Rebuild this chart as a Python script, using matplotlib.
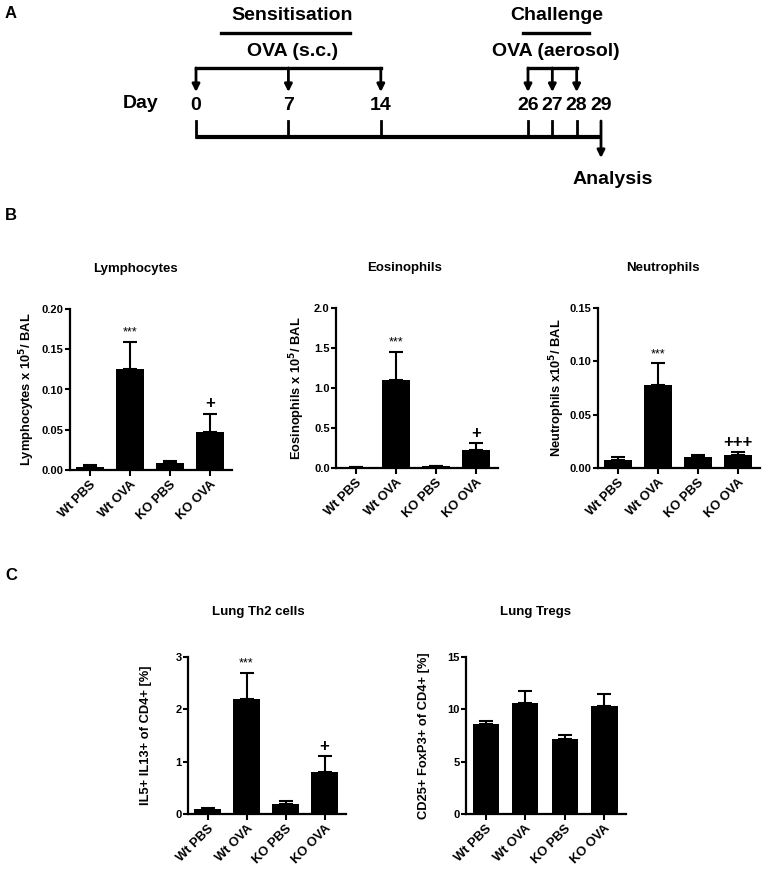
import numpy as np
import matplotlib
matplotlib.use('Agg')
import matplotlib.pyplot as plt

plt.rcParams['font.family'] = ['Liberation Sans', 'DejaVu Sans']
plt.rcParams['font.weight'] = 'bold'

W, H = 764, 871

# ---------------- data ----------------
groups = ['Wt PBS', 'Wt OVA', 'KO PBS', 'KO OVA']

days = [0, 7, 14, 26, 27, 28, 29]
sens_days = [0, 7, 14]
chal_days = [26, 27, 28]

lymph = [0.004, 0.125, 0.009, 0.047]
lymph_err = [0.002, 0.034, 0.002, 0.023]
lymph_sig = ['***', '+']

eos = [0.01, 1.10, 0.02, 0.22]
eos_err = [0.005, 0.35, 0.01, 0.09]
eos_sig = ['***', '+']

neut = [0.0075, 0.078, 0.010, 0.012]
neut_err = [0.0025, 0.020, 0.002, 0.003]
neut_sig = ['***', '+++']

th2 = [0.10, 2.20, 0.20, 0.81]
th2_err = [0.02, 0.50, 0.04, 0.30]
th2_sig = ['***', '+']

treg = [8.6, 10.6, 7.15, 10.3]
treg_err = [0.3, 1.15, 0.4, 1.15]
treg_sig = ['', '']


def px(l, t, r, b):
    return [l / W, 1 - b / H, (r - l) / W, (b - t) / H]


fig = plt.figure(figsize=(W / 100, H / 100), dpi=100)

# ---------------- panel A: timeline ----------------
# schematic axis: the last days are drawn spread out
knots_in = [-20, 0, 14, 26, 29, 40]
knots_out = [-20, 0, 14, 25.15, 30.68, 41.68]

def fwd(d):
    return np.interp(d, knots_in, knots_out)

def inv(u):
    return np.interp(u, knots_out, knots_in)

ta = fig.add_axes(px(196, 0, 601, 200))
ta.set_xscale('function', functions=(fwd, inv))
ta.set_xlim(0, 29)
ta.set_ylim(200, 0)
ta.axis('off')

fs = 14
arrow = dict(arrowstyle='-|>', lw=2, color='k', mutation_scale=11,
             shrinkA=0, shrinkB=0)

ta.plot([0, 29], [137, 137], color='k', lw=3, solid_capstyle='butt', clip_on=False)
for d in days[:-1]:
    ta.plot([d, d], [121, 137], color='k', lw=2, clip_on=False)
ta.annotate('', xy=(29, 158), xytext=(29, 121), arrowprops=arrow, annotation_clip=False)
for d in days:
    ta.text(d, 105, str(d), ha='center', va='center', fontsize=fs)
ta.text(-4.2, 103, 'Day', ha='center', va='center', fontsize=fs)
ta.text(29.9, 180, 'Analysis', ha='center', va='center', fontsize=fs)

for grp, label, title, lx in [(sens_days, 'OVA (s.c.)', 'Sensitisation', (1.9, 11.7)),
                               (chal_days, 'OVA (aerosol)', 'Challenge', (25.6, 28.5))]:
    ta.plot([grp[0], grp[-1]], [68, 68], color='k', lw=2.4, clip_on=False)
    for d in grp:
        ta.annotate('', xy=(d, 92), xytext=(d, 68), arrowprops=arrow, annotation_clip=False)
    mid = inv((fwd(grp[0]) + fwd(grp[-1])) / 2 + 0.3)
    ta.text(mid, 52, label, ha='center', va='center', fontsize=fs)
    ta.text(mid, 16, title, ha='center', va='center', fontsize=fs)
    ta.plot(list(lx), [33, 33], color='k', lw=2.4, clip_on=False)

# ---------------- bar panels ----------------
def bar_panel(rect, vals, errs, sig, ylim, yticks, yfmt, ylabel, label_x,
              title, title_xy, width=0.7):
    ax = fig.add_axes(px(*rect))
    x = np.arange(len(groups))
    ax.bar(x, vals, width=width, color='black', zorder=2)
    ax.errorbar(x, vals, yerr=[np.zeros(len(vals)), errs], fmt='none', ecolor='black',
                elinewidth=1.5, capsize=5, capthick=1.5, zorder=1)
    ax.set_xlim(-0.5, 3.55)
    ax.set_ylim(*ylim)
    ax.set_yticks(yticks)
    ax.set_yticklabels([yfmt.format(t) for t in yticks])
    ax.set_xticks(x)
    ax.set_xticklabels(groups, rotation=45, ha='right', rotation_mode='anchor')
    for s in ['top', 'right']:
        ax.spines[s].set_visible(False)
    for s in ['left', 'bottom']:
        ax.spines[s].set_linewidth(1.6)
    ax.tick_params(axis='y', direction='out', length=3.5, width=1.5,
                   labelsize=8, pad=1)
    ax.tick_params(axis='x', direction='out', length=4, width=1.5,
                   labelsize=9.3, pad=2)
    ax.set_ylabel(ylabel, fontsize=9.3, fontweight='bold', va='center')
    ax.yaxis.set_label_coords((label_x - rect[0]) / (rect[2] - rect[0]), 0.5)
    rng = ylim[1] - ylim[0]
    for i, s in zip([1, 3], sig):
        if not s:
            continue
        top = vals[i] + errs[i]
        if s == '***':
            ax.text(i, top + rng * 0.02, s, ha='center', va='bottom',
                    fontsize=9, fontweight='normal')
        else:
            ax.text(i, top + rng * 0.015, s, ha='center', va='bottom',
                    fontsize=12, fontweight='bold')
    fig.text(title_xy[0] / W, 1 - title_xy[1] / H, title, ha='center', va='center',
             fontsize=9.5, fontweight='bold')
    return ax

bar_panel((70, 309, 232, 470), lymph, lymph_err, lymph_sig, (0, 0.20),
          [0, 0.05, 0.10, 0.15, 0.20], '{:.2f}', 'Lymphocytes x 10$^5$/ BAL', 27,
          'Lymphocytes', (135, 269))
bar_panel((336, 308, 498, 468), eos, eos_err, eos_sig, (0, 2.0),
          [0, 0.5, 1.0, 1.5, 2.0], '{:.1f}', 'Eosinophils x 10$^5$/ BAL', 297,
          'Eosinophils', (405, 268))
bar_panel((598, 308, 760, 468), neut, neut_err, neut_sig, (0, 0.15),
          [0, 0.05, 0.10, 0.15], '{:.2f}', 'Neutrophils x10$^5$/ BAL', 557,
          'Neutrophils', (663, 268))
bar_panel((188, 657, 346, 814), th2, th2_err, th2_sig, (0, 3),
          [0, 1, 2, 3], '{:d}', 'IL5+ IL13+ of CD4+ [%]', 146,
          'Lung Th2 cells', (258, 612), width=0.67)
bar_panel((466, 657, 626, 814), treg, treg_err, treg_sig, (0, 15),
          [0, 5, 10, 15], '{:d}', 'CD25+ FoxP3+ of CD4+ [%]', 424,
          'Lung Tregs', (536, 612), width=0.67)

for letter, (lx, ly) in zip(['A', 'B', 'C'], [(11, 13), (11, 215), (11, 575)]):
    fig.text(lx / W, 1 - ly / H, letter, ha='center', va='center',
             fontsize=12, fontweight='bold')

plt.savefig('out.png', dpi=100)
